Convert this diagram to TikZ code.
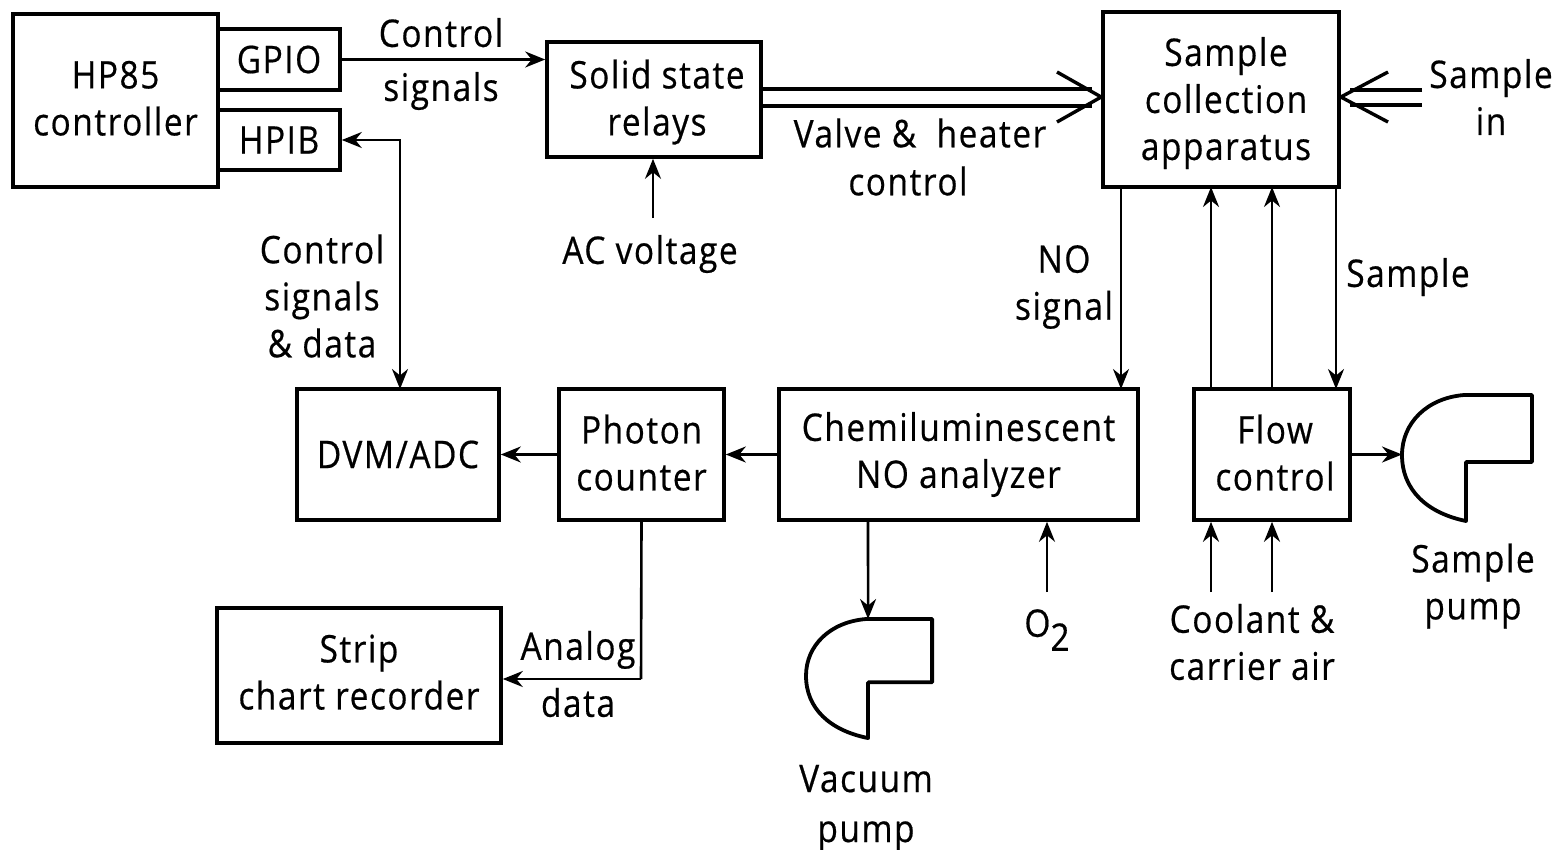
\documentclass[tikz,border=0pt]{standalone}
\usepackage{fontspec}
\setmainfont[FakeStretch=0.88,LetterSpace=4,FakeBold=0.5]{Open Sans}
\usetikzlibrary{arrows.meta,calc}
\newcommand{\lbl}{\fontsize{38}{47}\selectfont}
\newcommand{\tb}[3]{\kern#1pt\raisebox{#2pt}[\height][\depth]{\begin{tabular}{@{}c@{}}#3\end{tabular}}\kern-#1pt}
\tikzset{
  blk/.style={draw,line width=3.6pt,rectangle,inner sep=0pt,align=center,font=\lbl},
  lab/.style={inner sep=0pt,align=center,font=\lbl},
  conn/.style={line width=2.6pt},
  dbl/.style={line width=3.6pt},
  arr/.style={conn,-{Stealth[length=20pt,width=16pt]}},
  biarr/.style={conn,{Stealth[length=20pt,width=16pt]}-{Stealth[length=20pt,width=16pt]}},
  open/.style={line width=3.4pt},
  pumpline/.style={line width=3.8pt,line join=round,fill=white},
}
\newcommand{\pumpshape}[4]{%
  \begin{scope}[shift={(#1,#2)},#4]
    \coordinate (#3top) at (64,0);
    \coordinate (#3left) at (0,60);
    \draw[pumpline] (62,0) -- (130,0) -- (130,67) -- (64,67) -- (64,126)
      .. controls (25,118) and (0,95) .. (0,60)
      .. controls (0,28) and (25,3) .. (62,0) -- cycle;
  \end{scope}}
\begin{document}
\begin{tikzpicture}[x=1pt,y=-1pt]
\useasboundingbox (0,0) rectangle (1557,849);
% boxes
\node[blk,minimum width=205pt,minimum height=173pt] (hp) at (115.5,100.5) {\tb{0}{-2}{HP85\\controller}};
\node[blk,minimum width=122pt,minimum height=61pt] (gpio) at (279,59.5) {GPIO};
\node[blk,minimum width=122pt,minimum height=60pt] (hpib) at (279,140) {HPIB};
\node[blk,minimum width=214pt,minimum height=115pt] (relays) at (654,99.5) {\tb{3}{-3}{Solid state\\relays}};
\node[blk,minimum width=236pt,minimum height=175pt] (coll) at (1221,99.5) {\tb{5}{-4}{Sample\\collection\\apparatus}};
\node[blk,minimum width=202pt,minimum height=131pt] (dvm) at (398,454.5) {DVM/ADC};
\node[blk,minimum width=165pt,minimum height=131pt] (phot) at (641.5,454.5) {\tb{0}{-3}{Photon\\counter}};
\node[blk,minimum width=359pt,minimum height=131pt] (chem) at (958.5,454.5) {Chemiluminescent\\NO analyzer};
\node[blk,minimum width=156pt,minimum height=131pt] (flow) at (1272,454.5) {\tb{3}{-3}{Flow\\control}};
\node[blk,minimum width=284pt,minimum height=135pt] (strip) at (359,675.5) {\tb{0}{-1}{Strip\\chart recorder}};
% pumps
\pumpshape{1402}{395}{sp}{}
\pumpshape{806}{619}{vp}{xscale=0.97,yscale=0.945}
% free labels
\node[lab] (lctl) at (441,64) {Control\\[7pt]signals};
\node[lab] (lvalve) at (920,133) {Valve \& \ heater};
\node[lab] (lvalve2) at (908,181) {control};
\node[lab] (lac) at (650,254) {AC voltage};
\node[lab] (lcsd) at (322,296) {Control\\signals\\\& data};
\node[lab] (lno) at (1064,287) {NO\\signal};
\node[lab] (lsamp) at (1408,277) {Sample};
\node[lab] (lin) at (1491,97) {Sample\\in};
\node[lab] (lana) at (578,674) {Analog\\[10pt]data};
\node[lab] (lvac) at (866,808) {Vacuum\\[3pt]pump};
\node[lab] (lo2) at (1047,630) {O\raisebox{-14pt}{2}};
\node[lab] (lcool) at (1252,642) {Coolant \&\\carrier air};
\node[lab] (lspump) at (1473,586) {Sample\\pump};
% free ends
\coordinate (acend) at (653,218);
\coordinate (o2end) at (1047,592);
\coordinate (c1end) at (1211,592);
\coordinate (c2end) at (1272,592);
\coordinate (in1) at (1422,90);
\coordinate (in2) at (1422,105);
% connectors
\draw[arr] (gpio.east) -- (relays.west |- gpio.east);
\draw[biarr] (hpib.east) -- (400,140) -- (400,389);
\draw[arr] (acend) -- (acend |- relays.south);
\draw[dbl] (relays.east |- 0,89) -- (1092,89);
\draw[dbl] (relays.east |- 0,106) -- (1092,106);
\draw[open] (1057,72) -- (coll.west |- 0,97) -- (1057,122);
\draw[dbl] (in1) -- (1350,90);
\draw[dbl] (in2) -- (1350,105);
\draw[open] (1388,72) -- (coll.east |- 0,97) -- (1388,122);
\draw[arr] (1121,187) -- (1121,389);
\draw[arr] (1211,389) -- (1211,187);
\draw[arr] (1272,389) -- (1272,187);
\draw[arr] (1336,187) -- (1336,389);
\draw[arr] (phot.west) -- (dvm.east);
\draw[arr] (chem.west) -- (phot.east);
\draw[conn] (phot.south) -- (641,679);
\draw[arr] (641,679) -- (strip.east |- 0,679);
\draw[arr] (868,520) -- (vptop);
\draw[arr] (o2end) -- (o2end |- chem.south);
\draw[arr] (c1end) -- (c1end |- flow.south);
\draw[arr] (c2end) -- (c2end |- flow.south);
\draw[arr] (flow.east) -- (flow.east -| spleft);
\end{tikzpicture}
\end{document}
